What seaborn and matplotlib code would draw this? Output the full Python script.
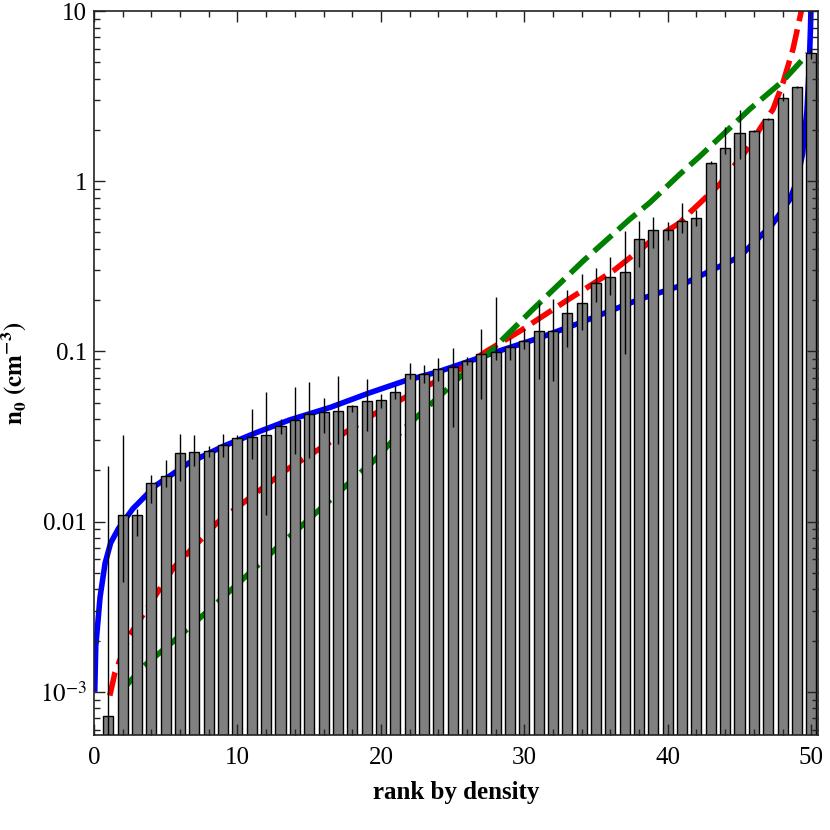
import numpy as np
import matplotlib
matplotlib.use("Agg")
import matplotlib.pyplot as plt
from matplotlib.ticker import FixedLocator, LogLocator, MultipleLocator, NullFormatter
import seaborn as sns

# bar values (rank 1..50)
ranks = list(range(1, 51))
n0 = [0.00072, 0.0109, 0.0109, 0.0168, 0.0186, 0.0254, 0.0257, 0.0261, 0.0281, 0.0311,
      0.0316, 0.0321, 0.0367, 0.0396, 0.0431, 0.0438, 0.0446, 0.0477, 0.0513, 0.052,
      0.058, 0.0735, 0.0735, 0.0787, 0.0809, 0.0882, 0.0969, 0.099, 0.1066, 0.115,
      0.1316, 0.1316, 0.169, 0.1916, 0.251, 0.275, 0.294, 0.456, 0.515, 0.52,
      0.587, 0.611, 1.28, 1.56, 1.91, 1.97, 2.32, 3.09, 3.57, 5.64]
err_hi = [0.0213, 0.0325, 0.0118, 0.0189, 0.0229, 0.0328, 0.0325, 0.028, 0.0328, 0.0321,
          0.0456, 0.0577, 0.040, 0.0614, 0.0658, 0.0534, 0.0713, 0.0485, 0.0685, 0.0566,
          0.0631, 0.0853, 0.0835, 0.091, 0.1046, 0.093, 0.136, 0.21, 0.1205, 0.1347,
          0.1916, 0.2023, 0.2285, 0.2865, 0.309, 0.357, 0.508, 0.582, 0.614, 0.576,
          0.745, 0.675, 1.32, 2.07, 2.63, 2.0, 2.35, 3.29, 3.62, 6.03]
err_lo = [1e-6, 0.00441, 0.0082, 0.0128, 0.0159, 0.0173, 0.0211, 0.0239, 0.0239, 0.0304,
          0.0232, 0.0109, 0.0328, 0.0251, 0.0235, 0.0332, 0.0286, 0.0442, 0.034, 0.0466,
          0.0527, 0.069, 0.0654, 0.0669, 0.0359, 0.0827, 0.0527, 0.089, 0.089, 0.1037,
          0.069, 0.0669, 0.1066, 0.1335, 0.196, 0.2135, 0.096, 0.312, 0.405, 0.452,
          0.499, 0.546, 1.26, 1.44, 1.36, 1.94, 2.30, 2.97, 3.52, 5.26]

# model curves
blue_x = [0.05, 0.12, 0.42, 0.77, 1.16, 1.7, 2.2, 2.7, 3.15, 4.3, 6.6, 9.0, 11.3, 13.6, 16.5,
          19.2, 21.6, 24.0, 26.9, 28.3, 31.1, 33.9, 38.0, 40.8, 42.7, 45.0, 46.4, 47.3,
          48.5, 49.0, 49.4, 49.7, 49.85, 49.95, 50.0]
blue_y = [0.001, 0.00185, 0.0036, 0.0057, 0.0075, 0.0091, 0.0104, 0.0119, 0.013, 0.0163, 0.0221,
          0.0277, 0.0333, 0.0395, 0.047, 0.0571, 0.0669, 0.076, 0.092, 0.101, 0.1205,
          0.1475, 0.202, 0.242, 0.29, 0.36, 0.47, 0.56, 0.78, 1.0, 1.45, 2.6, 4.5, 8.0, 12.0]
red_x = [1.1, 1.46, 2.5, 5.53, 8.55, 10.4, 13.43, 16.45, 19.47, 22.49, 25.5, 27.37,
         29.69, 32.7, 36.19, 38.75, 40.84, 41.53, 43.62, 45.71, 46.4, 47.34, 48.04,
         48.73, 49.31, 49.45]
red_y = [0.00095, 0.0013, 0.00216, 0.00534, 0.0098, 0.0129, 0.0202, 0.0293, 0.0426,
         0.0584, 0.0784, 0.1004, 0.1316, 0.193, 0.297, 0.44, 0.57, 0.654, 0.96, 1.61,
         2.02, 2.65, 3.81, 5.98, 10.0, 12.0]
green_x = [2.0, 2.5, 3.44, 5.53, 8.55, 12.73, 13.66, 18.42, 19.47, 21.55, 24.34, 26.67,
           27.37, 30.6, 34.1, 37.35, 38.75, 40.84, 42.23, 45.71, 48.04, 49.76]
green_y = [0.00103, 0.00115, 0.00141, 0.00198, 0.00332, 0.0070, 0.0082, 0.0189, 0.0226,
           0.0348, 0.0571, 0.0877, 0.095, 0.177, 0.34, 0.598, 0.749, 1.1, 1.40, 2.65,
           3.89, 5.6]

sns.set_style("ticks")
plt.rcParams["font.family"] = ["Liberation Serif", "DejaVu Serif"]
plt.rcParams["mathtext.fontset"] = "stix"
plt.rcParams["text.color"] = "black"
plt.rcParams["axes.labelcolor"] = "black"

fig = plt.figure(figsize=(8.3, 8.3), dpi=100)
ax = fig.add_axes([0.1133, 0.1145, 0.8722, 0.8722])

lw = 4.0
ax.plot(blue_x, blue_y, color="blue", lw=lw, zorder=1, solid_capstyle="butt")
red_line, = ax.plot(red_x, red_y, color="red", lw=lw, zorder=1)
red_line.set_dashes((4.3, 1.5))
green_line, = ax.plot(green_x, green_y, color="green", lw=lw, zorder=1)
green_line.set_dashes((4.3, 1.5))

sns.barplot(x=ranks, y=n0, native_scale=True, width=0.7, color="#808080",
            saturation=1, edgecolor="black", linewidth=1, errorbar=None,
            ax=ax, zorder=2)
ax.vlines(ranks, err_lo, err_hi, color="black", lw=1, zorder=3)

ax.set_yscale("log")
ax.set_ylim(5.58e-4, 10)
ax.set_xlim(0, 50.47)

ax.xaxis.set_major_locator(MultipleLocator(10))
ax.xaxis.set_minor_locator(MultipleLocator(2))
ax.set_xticklabels([str(int(t)) for t in ax.get_xticks()])
ax.yaxis.set_major_locator(FixedLocator([1e-3, 1e-2, 1e-1, 1, 10]))
ax.set_yticklabels([r"$10^{-3}$", "0.01", "0.1", "1", "10"])
ax.yaxis.set_minor_locator(LogLocator(base=10, subs=np.arange(2, 10)))
ax.yaxis.set_minor_formatter(NullFormatter())

ax.tick_params(which="both", direction="in", top=True, right=True, labelsize=18,
               color="#222222", labelcolor="black", width=1)
ax.tick_params(which="major", length=8)
ax.tick_params(which="minor", length=4)
ax.tick_params(axis="x", which="major", pad=9)
ax.tick_params(axis="y", which="major", pad=5)
for s in ax.spines.values():
    s.set_linewidth(1.2)
    s.set_color("#222222")
ax.set_axisbelow(False)

ax.set_xlabel("rank by density", fontsize=18, fontweight="bold", labelpad=8)
ax.set_ylabel(r"$\mathbf{n_0\ (cm^{-3})}$", fontsize=18, labelpad=8)

fig.savefig("out.png", dpi=100)
